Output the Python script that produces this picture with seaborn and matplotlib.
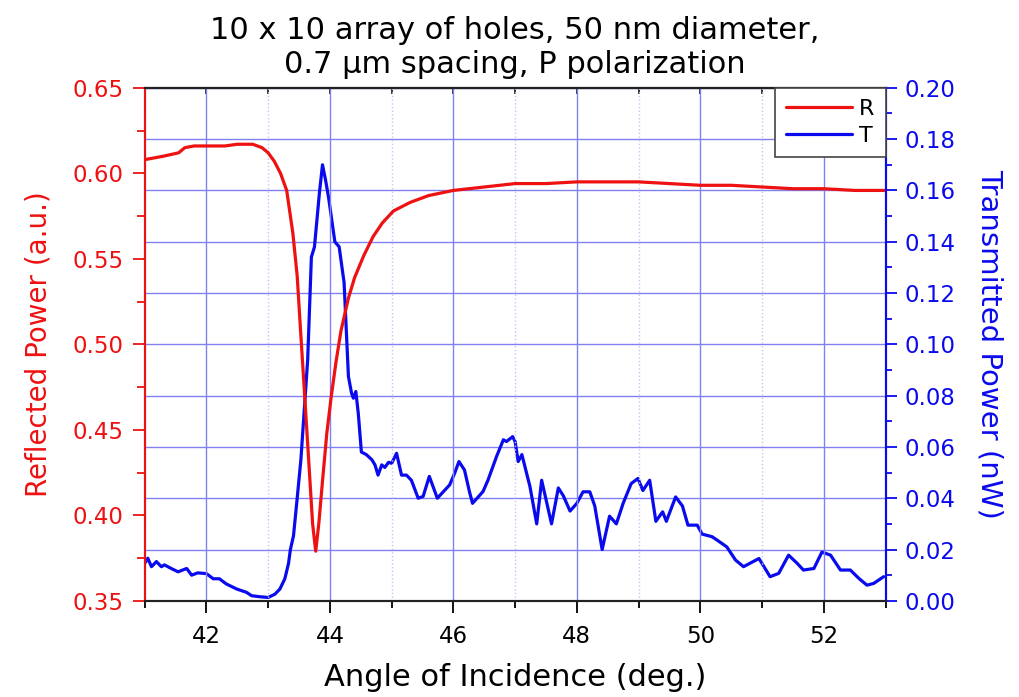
import matplotlib
matplotlib.use("Agg")
import matplotlib.pyplot as plt
from matplotlib.ticker import MultipleLocator, FormatStrFormatter, NullFormatter
import seaborn as sns

# Reflected power (left axis)
r_angle = [41.0, 41.3, 41.55, 41.65, 41.8, 42.0, 42.3, 42.5, 42.75, 42.9, 43.0, 43.1,
           43.2, 43.3, 43.4, 43.47, 43.53, 43.6, 43.66, 43.72, 43.77, 43.82, 43.88,
           43.95, 44.02, 44.1, 44.18, 44.3, 44.4, 44.55, 44.7, 44.85, 45.03, 45.3,
           45.6, 46.0, 46.5, 47.0, 47.5, 48.0, 48.5, 49.0, 49.5, 50.0, 50.5, 51.0,
           51.5, 52.0, 52.5, 53.0]
r_power = [0.608, 0.610, 0.612, 0.615, 0.616, 0.616, 0.616, 0.617, 0.617, 0.615, 0.612, 0.607,
           0.600, 0.590, 0.565, 0.540, 0.505, 0.465, 0.430, 0.395, 0.379, 0.395, 0.420,
           0.448, 0.469, 0.490, 0.508, 0.527, 0.539, 0.552, 0.563, 0.571, 0.578, 0.583,
           0.587, 0.590, 0.592, 0.594, 0.594, 0.595, 0.595, 0.595, 0.594, 0.593, 0.593, 0.592,
           0.591, 0.591, 0.590, 0.590]

# Transmitted power (right axis)
t_angle = [41.0, 41.05, 41.11, 41.19, 41.27, 41.32, 41.43, 41.54, 41.68, 41.76, 41.86, 42.0,
           42.11, 42.21, 42.32, 42.49, 42.65, 42.73, 42.86, 43.0, 43.11, 43.19, 43.27, 43.33,
           43.36, 43.41, 43.47, 43.53, 43.64, 43.7, 43.75, 43.83, 43.88, 43.93, 43.98, 44.08,
           44.15, 44.23, 44.30, 44.35, 44.38, 44.42, 44.46, 44.51, 44.59, 44.68, 44.73, 44.78,
           44.84, 44.89, 44.95, 45.0, 45.08, 45.16, 45.24, 45.32, 45.43, 45.51, 45.61, 45.67,
           45.74, 45.84, 45.94, 46.02, 46.09, 46.18, 46.26, 46.31, 46.48, 46.56, 46.70, 46.81,
           46.86, 46.96, 47.0, 47.05, 47.11, 47.24, 47.35, 47.43, 47.59, 47.70, 47.78, 47.89,
           48.0, 48.1, 48.21, 48.29, 48.41, 48.53, 48.64, 48.75, 48.88, 48.99, 49.07, 49.18,
           49.28, 49.39, 49.45, 49.6, 49.71, 49.8, 49.95, 50.03, 50.19, 50.27, 50.43, 50.57,
           50.7, 50.95, 51.13, 51.27, 51.43, 51.57, 51.67, 51.84, 51.97, 52.11, 52.27, 52.43,
           52.57, 52.7, 52.81, 52.97]
t_power = [0.0146, 0.0166, 0.0133, 0.0153, 0.0133, 0.014, 0.0126, 0.0113, 0.0126, 0.010, 0.0109, 0.0106,
           0.0086, 0.0086, 0.0066, 0.0046, 0.0033, 0.002, 0.0016, 0.0013, 0.0026, 0.0046, 0.0086, 0.0146,
           0.020, 0.0253, 0.040, 0.055, 0.094, 0.134, 0.138, 0.159, 0.170, 0.164, 0.157, 0.140,
           0.138, 0.124, 0.0875, 0.081, 0.079, 0.0816, 0.073, 0.058, 0.057, 0.055, 0.053, 0.049,
           0.053, 0.052, 0.054, 0.0536, 0.0575, 0.049, 0.049, 0.047, 0.040, 0.0407, 0.0485, 0.0446,
           0.040, 0.0426, 0.0452, 0.0497, 0.0543, 0.051, 0.0426, 0.038, 0.0426, 0.047, 0.0563, 0.0628,
           0.0621, 0.064, 0.0621, 0.0543, 0.057, 0.0446, 0.030, 0.047, 0.030, 0.044, 0.041, 0.035,
           0.038, 0.0425, 0.0425, 0.037, 0.020, 0.033, 0.030, 0.038, 0.0457, 0.0477, 0.043, 0.047,
           0.031, 0.0347, 0.031, 0.0405, 0.037, 0.0295, 0.0295, 0.026, 0.025, 0.0237, 0.021, 0.0159,
           0.0133, 0.0165, 0.0094, 0.0107, 0.0178, 0.0146, 0.012, 0.0126, 0.019, 0.0178, 0.012, 0.012,
           0.0087, 0.0061, 0.0068, 0.0094]

red = "#ee1111"
blue = "#0a0aee"
grid_col = "#8080f0"

sns.set_style("ticks")
plt.rcParams['font.family'] = ['DejaVu Sans']
plt.rcParams['text.color'] = 'black'
plt.rcParams['xtick.color'] = 'black'
plt.rcParams['axes.labelcolor'] = 'black'

fig, ax1 = plt.subplots(figsize=(10.19, 6.97), dpi=100)
fig.subplots_adjust(left=0.142, right=0.869, bottom=0.138, top=0.874)
ax2 = ax1.twinx()

# T axis (with the horizontal grid) sits below the R axis
ax2.set_zorder(0)
ax1.set_zorder(1)
ax1.patch.set_visible(False)
ax2.patch.set_visible(True)
ax2.patch.set_facecolor("white")

ax2.yaxis.set_major_locator(MultipleLocator(0.02))
ax2.yaxis.set_minor_locator(MultipleLocator(0.01))
ax2.grid(axis="y", which="major", color=grid_col, linewidth=1.0)

sns.lineplot(x=t_angle, y=t_power, ax=ax2, color=blue, linewidth=2.3, sort=False, label="T", legend=False)
sns.lineplot(x=r_angle, y=r_power, ax=ax1, color=red, linewidth=2.3, sort=False, label="R", legend=False)

ax1.set_xlim(41, 53)
ax1.set_ylim(0.35, 0.65)
ax2.set_ylim(0.0, 0.20)

ax1.xaxis.set_major_locator(MultipleLocator(2))
ax1.xaxis.set_minor_locator(MultipleLocator(1))
ax1.grid(axis="x", which="major", color=grid_col, linewidth=1.0)
ax1.grid(axis="x", which="minor", color="#c4c4f0", linewidth=1.0, linestyle=":")
ax1.yaxis.set_major_locator(MultipleLocator(0.05))
ax1.yaxis.set_minor_locator(MultipleLocator(0.025))
ax1.yaxis.set_major_formatter(FormatStrFormatter("%.2f"))
ax2.yaxis.set_major_formatter(FormatStrFormatter("%.2f"))

ax1.tick_params(axis="x", which="major", direction="out", colors="black", labelsize=16.5, length=8.5, width=1.3, pad=9)
ax1.tick_params(axis="x", which="minor", direction="out", colors="black", length=5, width=1.3)
ax1.tick_params(axis="y", which="major", direction="out", colors=red, labelsize=16.5, length=8.5, width=1.3, pad=7)
ax1.tick_params(axis="y", which="minor", direction="out", colors=red, length=5.5, width=1.3)
ax2.tick_params(axis="y", which="major", direction="out", colors=blue, labelsize=16.5, length=8, width=1.3, pad=6)
ax2.tick_params(axis="y", which="minor", direction="out", colors=blue, length=4.5, width=1.3)

# inward ticks along the top edge
top = ax1.secondary_xaxis("top")
top.xaxis.set_major_locator(MultipleLocator(1))
top.xaxis.set_major_formatter(NullFormatter())
top.tick_params(axis="x", direction="in", colors="#222222", length=4.5, width=1.3)
top.spines["top"].set_linewidth(1.5)
top.spines["top"].set_color("#222222")

for ax in (ax1, ax2):
    for s in ax.spines.values():
        s.set_linewidth(1.5)
        s.set_color("#222222")
    ax.spines["left"].set_color(red)
    ax.spines["right"].set_color(blue)

ax1.set_xlabel("Angle of Incidence (deg.)", fontsize=22, color="black", labelpad=11)
ax1.set_ylabel("Reflected Power (a.u.)", fontsize=20, color=red, labelpad=14)
ax2.set_ylabel("Transmitted Power (nW)", fontsize=21, color=blue, rotation=270, va="bottom", labelpad=14)
ax1.set_title("10 x 10 array of holes, 50 nm diameter,\n0.7 \u03bcm spacing, P polarization",
              fontsize=22, color="black", pad=11)

h1, l1 = ax1.get_legend_handles_labels()
h2, l2 = ax2.get_legend_handles_labels()
leg = ax1.legend(h1 + h2, l1 + l2, loc="upper right", fontsize=16, frameon=True, fancybox=False,
                 edgecolor="#444444", framealpha=1, borderaxespad=0.0, handlelength=3.0,
                 handletextpad=0.3, borderpad=0.5, labelspacing=0.3)
leg.get_frame().set_linewidth(1.2)

fig.savefig("out.png", dpi=100)
